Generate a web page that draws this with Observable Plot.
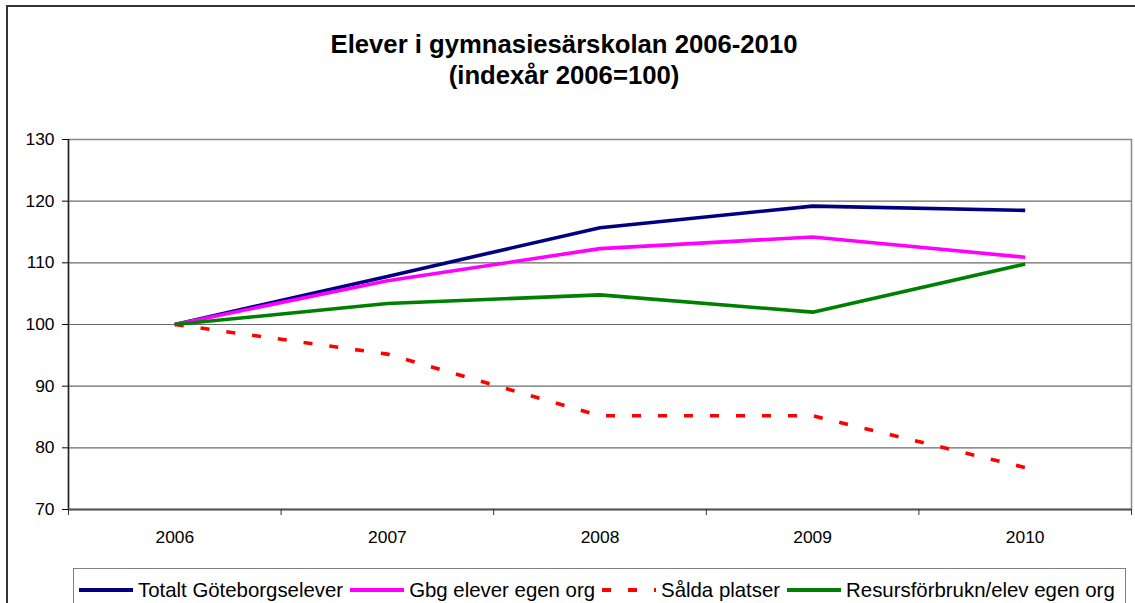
<!DOCTYPE html>
<html><head><meta charset="utf-8">
<script src="https://cdn.jsdelivr.net/npm/d3@7"></script>
<script src="https://cdn.jsdelivr.net/npm/@observablehq/plot@0.6"></script>
<style>
body{margin:0;background:#fff;font-family:"Liberation Sans",Arial,sans-serif;}
#wrap{position:relative;width:1135px;height:603px;overflow:hidden;background:#fff;}
#border{position:absolute;left:6px;top:5px;width:1200px;height:700px;border-left:2px solid #333;border-top:2px solid #333;}
#title{position:absolute;left:0;top:29px;width:1128px;text-align:center;font-weight:bold;font-size:25.7px;line-height:31px;color:#000;}
#chart{position:absolute;left:0;top:100px;}
#legend{position:absolute;left:73px;top:568px;width:1053px;border:1px solid #808080;box-sizing:border-box;padding:4px 0 0 5px;display:flex;align-items:center;height:40px;font-size:20.4px;line-height:24px;white-space:nowrap;}
.item{display:flex;align-items:center;margin-right:7px;}
.item svg{margin-right:5px;}
</style></head>
<body>
<div id="wrap">
<div id="border"></div>
<div id="title">Elever i gymnasiesärskolan 2006-2010<br>(indexår 2006=100)</div>
<div id="chart"></div>
<div id="legend"></div>
</div>
<script>
const years = [2006, 2007, 2008, 2009, 2010];
const totalt = [100, 107.8, 115.7, 119.2, 118.5];
const gbgEgen = [100, 107.1, 112.3, 114.2, 110.9];
const saldaPlatser = [100, 95.2, 85.2, 85.2, 76.8];
const resurs = [100, 103.4, 104.8, 102.0, 109.8];
const yTicks = [70, 80, 90, 100, 110, 120, 130];
const seriesNames = ["Totalt Göteborgselever", "Gbg elever egen org", "Sålda platser", "Resursförbrukn/elev egen org"];
const seriesColors = ["#000080", "#FF00FF", "#FF0000", "#008000"];
const seriesDash = [null, null, "9,17", null];
const seriesValues = [totalt, gbgEgen, saldaPlatser, resurs];

const boundaries = years.map(y => y - 0.5).concat([years[years.length - 1] + 0.5]);
const rows = seriesValues.map(vals => years.map((yr, i) => ({year: yr, value: vals[i]})));

const lineMarks = rows.map((r, k) => Plot.line(r, {
  x: "year", y: "value", stroke: seriesColors[k], strokeWidth: 3.6,
  strokeDasharray: seriesDash[k] || undefined, strokeLinejoin: "miter", strokeLinecap: "butt"
}));

const plot = Plot.plot({
  width: 1135, height: 460,
  marginLeft: 68, marginRight: 4, marginTop: 39, marginBottom: 51,
  style: {fontFamily: '"Liberation Sans", Arial, sans-serif', fontSize: "17px", color: "#000", background: "transparent"},
  x: {domain: [boundaries[0], boundaries[boundaries.length - 1]]},
  y: {domain: [yTicks[0], yTicks[yTicks.length - 1]]},
  marks: [
    Plot.gridY(yTicks, {stroke: "#6a6a6a", strokeOpacity: 1, strokeWidth: 1.2}),
    Plot.frame({stroke: "#8a8a8a", strokeWidth: 1.5}),
    Plot.axisY(yTicks, {tickSize: 6, tickPadding: 8, label: null, stroke: "#000", fontSize: 17.4}),
    Plot.ruleX([boundaries[0]], {stroke: "#222", strokeWidth: 1.5}),
    Plot.ruleY([yTicks[0]], {stroke: "#555", strokeWidth: 2.2}),
    Plot.axisX(boundaries, {tickSize: 6, tickFormat: () => "", label: null, stroke: "#333"}),
    Plot.axisX(years, {tickSize: 0, tickPadding: 21, tickFormat: d => String(d), label: null, fontSize: 17.4}),
    ...lineMarks
  ]
});
document.getElementById("chart").appendChild(plot);

const legend = document.getElementById("legend");
seriesNames.forEach((name, k) => {
  const item = document.createElement("div");
  item.className = "item";
  const dash = seriesDash[k] ? ` stroke-dasharray="${seriesDash[k]}"` : "";
  item.innerHTML = `<svg width="54" height="10"><line x1="0" y1="5" x2="54" y2="5" stroke="${seriesColors[k]}" stroke-width="4"${dash}/></svg><span>${name}</span>`;
  legend.appendChild(item);
});
</script>
</body></html>
